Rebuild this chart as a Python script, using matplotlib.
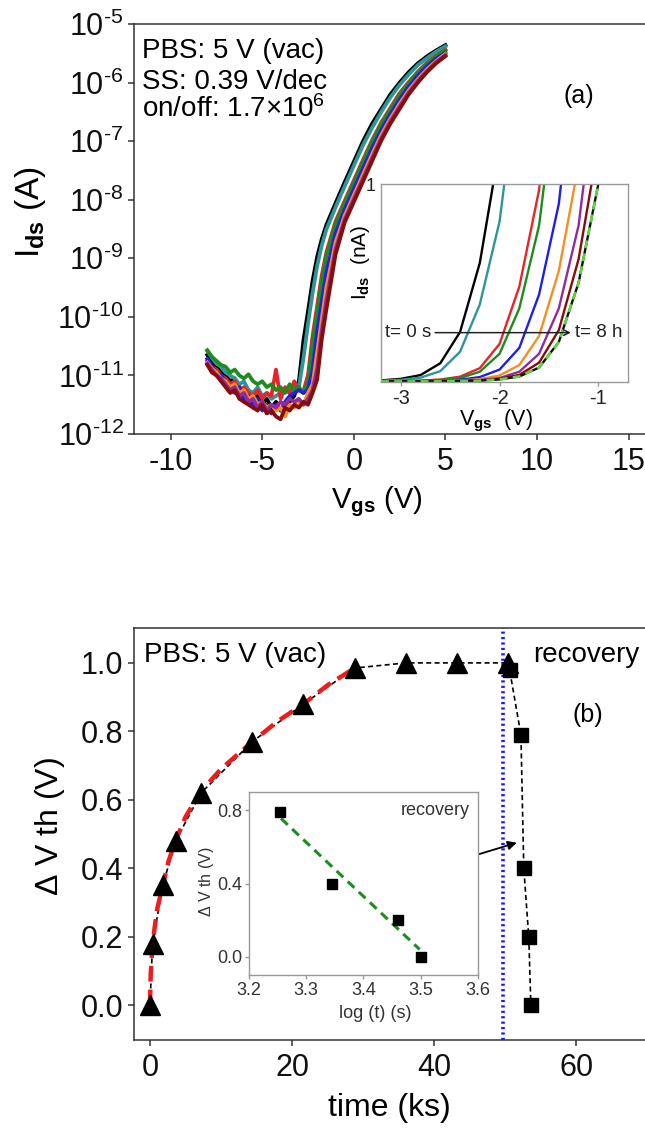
import matplotlib
matplotlib.use("Agg")
import matplotlib.pyplot as plt
from matplotlib.ticker import FixedLocator, FixedFormatter, NullLocator
import numpy as np

plt.rcParams['font.family'] = ['Liberation Sans', 'DejaVu Sans']
plt.rcParams['mathtext.fontset'] = 'custom'
plt.rcParams['mathtext.rm'] = 'Liberation Sans'
plt.rcParams['mathtext.it'] = 'Liberation Sans:italic'
plt.rcParams['mathtext.bf'] = 'Liberation Sans:bold'
plt.rcParams['axes.unicode_minus'] = False

# ---------------- data: panel (a) main transfer curves (log10 Ids in A) ----------------
vgs = [-8.0, -7.75, -7.5, -7.25, -7.0, -6.75, -6.5, -6.25, -6.0, -5.75,
       -5.5, -5.25, -5.0, -4.75, -4.5, -4.25, -4.0, -3.75, -3.5, -3.25,
       -3.0, -2.75, -2.5, -2.25, -2.0, -1.75, -1.5, -1.0, -0.5, 0.0,
       0.5, 1.0, 1.5, 2.0, 2.5, 3.0, 3.5, 4.0, 4.5, 5.0]

log_ids_black = [-10.65, -10.78, -10.85, -10.95, -11.0, -11.1, -11.05, -11.2, -11.3, -11.25,
                 -11.4, -11.35, -11.5, -11.4, -11.55, -11.45, -11.6, -11.5, -11.45, -11.35,
                 -11.1, -10.4, -9.9, -9.38, -8.97, -8.67, -8.43, -8.06, -7.7, -7.35,
                 -7.0, -6.7, -6.45, -6.2, -6.0, -5.82, -5.67, -5.55, -5.45, -5.36]
log_ids_teal = [-10.58, -10.7, -10.8, -10.85, -10.95, -11.0, -11.05, -11.15, -11.1, -11.25,
                -11.3, -11.2, -11.35, -11.3, -11.4, -11.35, -11.3, -11.25, -11.3, -11.2,
                -11.2, -10.71, -10.12, -9.59, -9.13, -8.78, -8.51, -8.13, -7.77, -7.42,
                -7.07, -6.77, -6.5, -6.25, -6.04, -5.86, -5.7, -5.58, -5.47, -5.38]
log_ids_red = [-10.75, -10.85, -10.9, -11.0, -11.05, -11.15, -11.1, -11.25, -11.2, -11.3,
               -11.35, -11.25, -11.4, -11.3, -11.35, -10.9, -11.4, -11.2, -11.3, -11.1,
               -11.25, -11.27, -10.99, -10.32, -9.81, -9.29, -8.9, -8.37, -8.02, -7.67,
               -7.32, -6.98, -6.68, -6.43, -6.18, -5.99, -5.81, -5.66, -5.54, -5.44]
log_ids_green = [-10.57, -10.68, -10.75, -10.82, -10.85, -10.95, -10.9, -11.0, -11.05, -10.98,
                 -11.1, -11.15, -11.1, -11.2, -11.15, -11.25, -11.2, -11.3, -11.15, -11.25,
                 -11.2, -11.3, -11.12, -10.45, -9.94, -9.39, -8.97, -8.42, -8.06, -7.71,
                 -7.36, -7.01, -6.71, -6.46, -6.21, -6.01, -5.83, -5.68, -5.55, -5.45]
log_ids_blue = [-10.72, -10.85, -10.95, -11.0, -11.1, -11.2, -11.3, -11.2, -11.45, -11.35,
                -11.55, -11.4, -11.6, -11.5, -11.65, -11.5, -11.6, -11.45, -11.35, -11.3,
                -11.25, -11.3, -11.25, -10.9, -10.26, -9.75, -9.24, -8.58, -8.17, -7.82,
                -7.47, -7.12, -6.81, -6.54, -6.29, -6.07, -5.88, -5.72, -5.59, -5.49]
log_ids_orange = [-10.78, -10.88, -10.95, -11.05, -11.1, -11.2, -11.15, -11.3, -11.25, -11.4,
                  -11.35, -11.5, -11.45, -11.55, -11.5, -11.6, -11.55, -11.7, -11.5, -11.55,
                  -11.45, -11.5, -11.3, -11.15, -10.6, -10.04, -9.5, -8.73, -8.27, -7.92,
                  -7.57, -7.22, -6.89, -6.61, -6.36, -6.13, -5.94, -5.77, -5.63, -5.51]
log_ids_purple = [-10.8, -10.9, -11.0, -11.05, -11.15, -11.25, -11.2, -11.35, -11.3, -11.45,
                  -11.4, -11.55, -11.45, -11.6, -11.5, -11.55, -11.45, -11.5, -11.4, -11.45,
                  -11.4, -11.5, -11.4, -11.25, -10.88, -10.24, -9.72, -8.85, -8.34, -7.99,
                  -7.64, -7.29, -6.95, -6.66, -6.41, -6.17, -5.97, -5.8, -5.65, -5.53]
log_ids_darkred = [-10.82, -10.95, -11.0, -11.1, -11.2, -11.3, -11.25, -11.4, -11.45, -11.5,
                   -11.55, -11.6, -11.5, -11.65, -11.6, -11.7, -11.75, -11.55, -11.6, -11.5,
                   -11.55, -11.45, -11.5, -11.3, -11.07, -10.38, -9.88, -8.94, -8.39, -8.04,
                   -7.69, -7.34, -6.99, -6.7, -6.45, -6.2, -6.0, -5.82, -5.67, -5.55]

ids_tick_values = [1e-12, 1e-11, 1e-10, 1e-9, 1e-8, 1e-7, 1e-6, 1e-5]
ids_tick_labels = [r'10$^{\text{-}12}$', r'10$^{\text{-}11}$', r'10$^{\text{-}10}$', r'10$^{\text{-}9}$',
                   r'10$^{\text{-}8}$', r'10$^{\text{-}7}$', r'10$^{\text{-}6}$', r'10$^{\text{-}5}$']

# ---------------- data: panel (a) inset (Ids in nA) ----------------
vgs_inset = [-3.2, -3.0, -2.8, -2.6, -2.4, -2.2, -2.0, -1.8, -1.6, -1.4, -1.2, -1.0, -0.8]
ids_nA_black = [0.005, 0.013, 0.032, 0.092, 0.25, 0.6, 1.19, 2.0, 3.0, 4.0, 5.0, 6.0, 7.0]
ids_nA_teal = [0.003, 0.008, 0.019, 0.052, 0.15, 0.39, 0.81, 1.6, 3.0, 4.0, 5.0, 6.0, 7.0]
ids_nA_red = [0.0006, 0.0016, 0.004, 0.0095, 0.024, 0.067, 0.19, 0.48, 0.97, 1.9, 3.0, 4.0, 5.0]
ids_nA_green = [0.0005, 0.0013, 0.003, 0.007, 0.017, 0.049, 0.14, 0.37, 0.79, 1.6, 3.0, 4.0, 5.0]
ids_nA_blue = [0.0002, 0.0005, 0.0012, 0.0035, 0.0087, 0.022, 0.06, 0.17, 0.44, 0.9, 1.8, 3.0, 4.0]
ids_nA_orange = [0.0001, 0.0002, 0.0006, 0.0018, 0.0046, 0.0115, 0.03, 0.083, 0.23, 0.56, 1.1, 2.2, 3.0]
ids_nA_purple = [0.0001, 0.0001, 0.0003, 0.0008, 0.003, 0.007, 0.017, 0.049, 0.14, 0.37, 0.79, 1.6, 3.0]
ids_nA_darkred = [0.0, 0.0001, 0.0002, 0.0006, 0.002, 0.0052, 0.013, 0.033, 0.095, 0.26, 0.62, 1.2, 2.5]
ids_nA_lime = [0.0, 0.0, 0.0001, 0.0004, 0.0013, 0.004, 0.01, 0.025, 0.07, 0.2, 0.5, 1.0, 2.0]

# ---------------- data: panel (b) ----------------
t_stress = [0.0, 0.36, 1.8, 3.6, 7.2, 14.4, 21.6, 28.8, 36.0, 43.2, 50.4]
dvth_stress = [0.0, 0.18, 0.35, 0.48, 0.62, 0.77, 0.88, 0.985, 1.0, 1.0, 1.0]
t_recov = [50.6, 52.2, 52.6, 53.3, 53.6]
dvth_recov = [0.98, 0.79, 0.40, 0.20, 0.0]
t_fit = [0.0, 0.1, 0.36, 1.0, 1.8, 2.6, 3.6, 5.0, 7.2, 10.0, 14.4, 18.0, 21.6, 25.0, 28.8]
dvth_fit = [0.0, 0.09, 0.18, 0.28, 0.35, 0.42, 0.48, 0.55, 0.625, 0.69, 0.77, 0.83, 0.88, 0.935, 0.985]
t_recovery_start = 49.7

logt_inset = [3.255, 3.345, 3.46, 3.50]
dvth_inset = [0.79, 0.40, 0.20, 0.0]
logt_inset_fit = [3.256, 3.498]
dvth_inset_fit = [0.755, 0.04]

# ---------------- figure ----------------
W, H = 645, 1128
fig = plt.figure(figsize=(W / 100, H / 100), dpi=100)


def rect(x0, y0, x1, y1):
    return [x0 / W, 1 - y1 / H, (x1 - x0) / W, (y1 - y0) / H]


def fp(x, y):
    return (x / W, 1 - y / H)


spine_c = '#333333'
main_colors = ['#000000', '#2e9696', '#e8232a', '#1c8c1c', '#1f1fe6', '#f59020', '#8e2c9e', '#870c0c']
main_logs = [log_ids_black, log_ids_teal, log_ids_red, log_ids_green,
             log_ids_blue, log_ids_orange, log_ids_purple, log_ids_darkred]


def style_axes(ax, size, col=spine_c, lw=1.1, tlen=4.5):
    for s in ['left', 'bottom', 'top']:
        ax.spines[s].set_color(col)
        ax.spines[s].set_linewidth(lw)
    ax.spines['right'].set_visible(False)
    ax.tick_params(direction='out', length=tlen, width=lw, colors=col,
                   labelcolor='#111111', labelsize=size, top=False, right=False)


# ---- panel (a) ----
axa = fig.add_axes(rect(134, 24, 646, 434))
for lg, c in zip(main_logs, main_colors):
    axa.plot(vgs, [10 ** v for v in lg], color=c, lw=2.7, solid_joinstyle='round')
axa.set_yscale('log')
axa.set_ylim(1e-12, 1e-5)
axa.set_xlim(-12.0, 15.95)
axa.yaxis.set_major_locator(FixedLocator(ids_tick_values))
axa.yaxis.set_major_formatter(FixedFormatter(ids_tick_labels))
axa.yaxis.set_minor_locator(NullLocator())
axa.set_xticks([-10, -5, 0, 5, 10, 15])
style_axes(axa, 22)
axa.tick_params(axis='x', pad=5)
axa.tick_params(axis='y', pad=3)

fig.text(*fp(142, 58), 'PBS: 5 V (vac)', fontsize=20, va='baseline', ha='left')
fig.text(*fp(142, 89), 'SS: 0.39 V/dec', fontsize=20, va='baseline', ha='left')
fig.text(*fp(142, 117), r'on/off: 1.7$\times$10$^{6}$', fontsize=20, va='baseline', ha='left')
fig.text(*fp(579, 96), '(a)', fontsize=18, va='center', ha='center')
fig.text(*fp(31, 212), r'I$_{\mathbf{ds}}$ (A)', fontsize=24, rotation=90, va='center', ha='center')
fig.text(*fp(377, 502), r'V$_{\mathbf{gs}}$ (V)', fontsize=21, va='center', ha='center')

# ---- panel (a) inset ----
axi = fig.add_axes(rect(381, 184, 628, 382))
inset_curves = [(ids_nA_black, '#000000'), (ids_nA_teal, '#2e9696'), (ids_nA_red, '#e8232a'),
                (ids_nA_green, '#1c8c1c'), (ids_nA_blue, '#1f1fe6'), (ids_nA_orange, '#f59020'),
                (ids_nA_purple, '#8e2c9e'), (ids_nA_darkred, '#870c0c')]
for vals, c in inset_curves:
    axi.plot(vgs_inset, vals, color=c, lw=1.7)
axi.plot(vgs_inset, ids_nA_lime, color='#111111', lw=1.7)
axi.plot(vgs_inset, ids_nA_lime, color='#5ad83a', lw=1.9, ls=(0, (3, 2)))
axi.set_xlim(-3.2, -0.7)
axi.set_ylim(-0.003, 1.0)
axi.set_xticks([-3, -2, -1])
axi.set_xticklabels(['-3', '-2', '-1'])
axi.set_yticks([1])
axi.set_yticklabels(['1'])
for s in ['left', 'bottom', 'top', 'right']:
    axi.spines[s].set_color('#999999')
    axi.spines[s].set_linewidth(1.0)
axi.tick_params(axis='x', direction='out', length=3, width=1, colors='#999999',
                labelcolor='#222222', labelsize=14.5, pad=2)
axi.tick_params(axis='y', length=0, labelcolor='#222222', labelsize=13, pad=4)
axi.annotate('', xy=(-1.25, 0.247), xytext=(-2.68, 0.247),
             arrowprops=dict(arrowstyle='->', color='#222222', lw=1.1))
axi.text(-2.69, 0.247, 't= 0 s', fontsize=13.5, va='center', ha='right', color='#222222')
axi.text(-1.24, 0.247, 't= 8 h', fontsize=13.5, va='center', ha='left', color='#222222')
fig.text(*fp(360, 262), r'I$_{\mathbf{ds}}$  (nA)', fontsize=15, rotation=90, va='center', ha='center')
fig.text(*fp(496, 421), r'V$_{\mathbf{gs}}$  (V)', fontsize=15.5, va='center', ha='center')

# ---- panel (b) ----
axb = fig.add_axes(rect(134, 628, 646, 1040))
axb.axvline(t_recovery_start, color='#1a1aff', lw=2.6, ls=(0, (0.6, 0.9)))
axb.plot(t_stress, dvth_stress, color='black', lw=1.2, ls=(0, (3, 2)))
axb.plot([t_stress[-1]] + t_recov, [dvth_stress[-1]] + dvth_recov, color='black', lw=1.2, ls=(0, (3, 2)))
axb.plot(t_fit, dvth_fit, color='#ee1c1c', lw=3.2, ls=(0, (3.5, 1.8)))
axb.plot(t_stress, dvth_stress, ls='none', marker='^', ms=14.5, color='black')
axb.plot(t_recov, dvth_recov, ls='none', marker='s', ms=10.5, color='black')
axb.set_xlim(-2.25, 69.8)
axb.set_ylim(-0.102, 1.102)
axb.set_xticks([0, 20, 40, 60])
axb.set_yticks([0.0, 0.2, 0.4, 0.6, 0.8, 1.0])
axb.set_yticklabels(['0.0', '0.2', '0.4', '0.6', '0.8', '1.0'])
style_axes(axb, 22)
axb.tick_params(axis='x', pad=5)
axb.tick_params(axis='y', pad=3)
axb.annotate('', xy=(52.0, 0.477), xytext=(45.5, 0.436),
             arrowprops=dict(arrowstyle='-|>', color='black', lw=1.3, mutation_scale=13))

fig.text(*fp(144, 662), 'PBS: 5 V (vac)', fontsize=20, va='baseline', ha='left')
fig.text(*fp(533, 662), 'recovery', fontsize=20, va='baseline', ha='left')
fig.text(*fp(588, 715), '(b)', fontsize=18, va='center', ha='center')
fig.text(*fp(50, 827), r'$\Delta$ V th (V)', fontsize=23, rotation=90, va='center', ha='center')
fig.text(*fp(389, 1108), 'time (ks)', fontsize=23, va='center', ha='center')

# ---- panel (b) inset ----
axbi = fig.add_axes(rect(249, 792, 478, 975))
axbi.plot(logt_inset_fit, dvth_inset_fit, color='#1e8c1e', lw=2.2, ls=(0, (3, 2)))
axbi.plot(logt_inset, dvth_inset, ls='none', marker='s', ms=6.5, color='black')
axbi.set_xlim(3.2, 3.6)
axbi.set_ylim(-0.1, 0.9)
axbi.set_xticks([3.2, 3.3, 3.4, 3.5, 3.6])
axbi.set_xticklabels(['3.2', '3.3', '3.4', '3.5', '3.6'])
axbi.set_yticks([0.0, 0.4, 0.8])
axbi.set_yticklabels(['0.0', '0.4', '0.8'])
for s in ['left', 'bottom', 'top', 'right']:
    axbi.spines[s].set_color('#999999')
    axbi.spines[s].set_linewidth(1.0)
axbi.tick_params(direction='out', length=3, width=1, colors='#999999',
                 labelcolor='#333333', labelsize=13, pad=2)
axbi.text(3.585, 0.8, 'recovery', fontsize=13, ha='right', va='center', color='#333333')
fig.text(*fp(207, 882), r'$\Delta$ V th (V)', fontsize=11.5, rotation=90, va='center', ha='center', color='#333333')
fig.text(*fp(375, 1013), 'log (t) (s)', fontsize=13, va='center', ha='center', color='#333333')

fig.savefig('out.png', dpi=100)
